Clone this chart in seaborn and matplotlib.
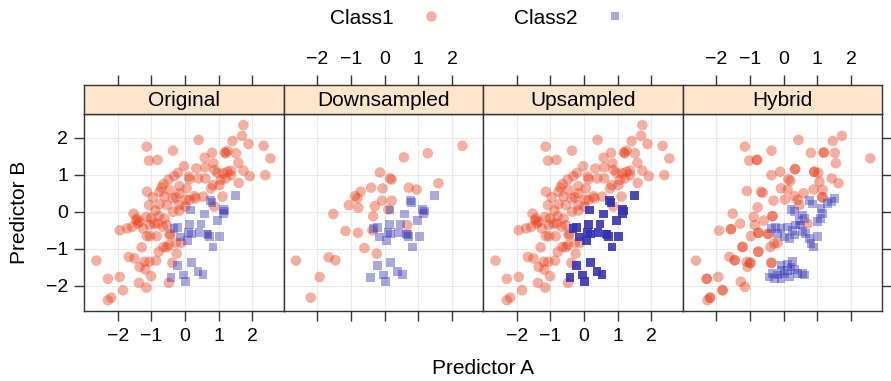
import numpy as np
import pandas as pd
import seaborn as sns
import matplotlib.pyplot as plt
from matplotlib.lines import Line2D

# Class1 points, original data
orig_c1_a = [1.73, 1.69, 0.40, 1.41, 1.88, 2.33, -1.14, -0.36, 1.18, 1.26, 1.51, 0.80, 0.58, 2.53,
             -1.07, -0.82, 0.84, 1.58, -0.03, 0.33, 0.60, 0.87, 1.36, 1.73, -0.21, 0.96, 1.13, 2.38,
             1.92, 0.13, -0.32, -0.49, 0.39, 0.60, 1.06, 1.21, 1.59, -0.64, -0.17, 0.05, 0.77, 1.02,
             -1.13, -0.76, -0.46, 0.28, 0.54, 1.11, -0.61, -0.27, 0.13, -0.96, -1.07, -0.76, -0.54,
             -0.17, 0.01, 0.87, -0.36, -0.17, -0.88, -1.53, -1.43, -1.35, -1.15, -1.01, -0.81, -0.61,
             -0.54, -0.78, -1.94, -1.72, -1.57, -1.05, -1.04, -0.84, -0.44, -0.27, -0.12, -0.64, -0.48,
             -1.29, -0.25, -0.78, -1.67, -1.50, -1.20, -1.06, -0.86, -2.63, -0.38, -1.35, -1.18, -1.01,
             -1.94, -2.29, -1.37, -0.48, -1.15, -1.84, -2.19, -2.29,
             0.11, 0.82, 1.26, -1.45, -1.40, -0.46, -0.54, 0.31, 0.03, -0.91, -0.66, -1.25, -1.13,
             1.21, 1.36, -0.36, -0.70, -0.17]
orig_c1_b = [2.34, 2.05, 1.94, 1.91, 1.83, 1.78, 1.76, 1.65, 1.60, 1.65, 1.58, 1.59, 1.46, 1.44,
             1.38, 1.40, 1.31, 1.32, 1.23, 1.17, 1.20, 1.13, 1.11, 1.11, 1.05, 1.05, 1.04, 0.99,
             0.96, 0.88, 0.96, 0.87, 0.90, 0.90, 0.86, 0.90, 0.78, 0.75, 0.69, 0.63, 0.63, 0.72,
             0.54, 0.54, 0.59, 0.42, 0.41, 0.41, 0.41, 0.39, 0.32, 0.39, 0.18, 0.20, 0.18,
             0.18, 0.14, 0.14, 0.00, 0.03, 0.03, -0.05, -0.18, -0.27, -0.14, -0.18, -0.32, -0.18,
             -0.36, -0.12, -0.50, -0.45, -0.41, -0.36, -0.66, -0.66, -0.60, -0.84, -0.84, -0.95, -0.90,
             -0.96, -1.13, -1.08, -1.22, -1.26, -1.35, -1.35, -1.32, -1.32, -1.38, -1.49, -1.56, -1.74,
             -1.76, -1.81, -1.92, -1.92, -2.05, -2.12, -2.32, -2.39,
             0.95, 0.72, 1.08, -0.23, -0.32, -0.63, -0.96, 0.36, 0.33, -0.32, -0.41, -0.45, -0.66,
             1.58, 0.99, 0.36, 0.66, 0.50]

# Class2 points, original data
orig_c2_a = [1.49, 0.76, 1.13, 1.15, 0.58, 0.16, 0.97, -0.22, -0.33, 0.14, 0.47, -0.14, 0.06,
             0.18, 0.41, 0.65, 0.72, 1.03, 0.83, -0.22, 0.18, -0.42, -0.04, 0.02, 0.38, 0.53,
             0.68, 1.18, 0.80, 0.10]
orig_c2_b = [0.43, 0.30, 0.07, -0.04, -0.06, 0.05, -0.23, -0.42, -0.46, -0.35, -0.33, -0.68, -0.77,
             -0.60, -0.57, -0.60, -0.66, -0.66, -0.95, -1.46, -1.38, -1.78, -1.71, -1.89, -1.62, -1.69,
             -0.62, 0.02, 0.25, -0.55]

# Downsampled Class1
down_c1_a = [2.31, 0.57, 1.28, -0.14, 0.16, 0.21, 1.60, 0.72, 0.95, -0.71, -0.40, -0.06, -0.81,
             -0.08, 0.21, -1.06, -0.78, -0.29, 0.11, -1.52, -0.34, 0.67, -1.16, -0.79, -0.36,
             -0.60, -0.23, -2.63, -1.66, -1.46, -1.93, -2.19, -0.88]
down_c1_b = [1.78, 1.47, 1.58, 1.06, 0.90, 0.87, 0.77, 0.65, 0.60, 0.54, 0.65, 0.63, 0.36,
             0.30, 0.30, 0.18, 0.11, 0.15, 0.06, -0.06, -0.12, -0.36, -0.52, -0.57, -0.50,
             -0.98, -1.13, -1.32, -1.23, -1.31, -1.76, -2.32, 0.42]

# Upsampled: every Class2 point appears several times
up_copies = 4

# Hybrid Class1
hyb_c1_a = [1.73, 0.44, 1.46, -1.15, -0.36, 1.19, 1.19, 1.52, 0.81, 2.57, -1.02, -0.79, -0.79, 1.55,
            0.34, 0.34, -0.10, -0.36, 0.91, 0.91, 1.03, 0.14, 0.20, 1.43, 1.63, 1.06, -0.08, 0.12,
            0.89, 1.16, -1.09, -0.67, -0.62, -0.30, 0.04, 0.32, 0.59, 0.42, 0.47, 1.15, 1.15,
            -0.77, -0.89, -1.51, -0.33, -0.33, -0.59, 0.71, -1.29, -1.56, -1.56, -1.91, -0.85,
            -0.75, -0.75, -0.97, -0.46, -0.46, -0.28, -0.18, -0.39, -1.22, -1.22, -0.75, -0.75,
            -1.61, -1.45, -1.45, -1.09, -0.99, -0.99, -0.36, -0.36, -2.60, -1.07, -1.94, -2.28,
            -2.28, -1.27, -1.81, -1.81, -1.15, -2.18, -2.18, -2.26]
hyb_c1_b = [2.05, 1.94, 1.91, 1.76, 1.65, 1.60, 1.60, 1.59, 1.59, 1.44, 1.38, 1.40, 1.40, 1.31,
            1.15, 1.15, 1.08, 0.99, 1.08, 1.08, 1.05, 0.88, 0.84, 0.90, 0.77, 0.81, 0.63, 0.60,
            0.60, 0.59, 0.56, 0.54, 0.51, 0.30, 0.33, 0.42, 0.50, 0.32, 0.18, 0.39, 0.39,
            0.12, -0.14, -0.05, -0.12, -0.12, -0.24, -0.32, -0.32, -0.47, -0.47, -0.51, -0.36,
            -0.57, -0.57, -0.66, -0.60, -0.60, -0.86, -0.84, -0.95, -0.95, -0.95, -1.08, -1.08,
            -1.22, -1.31, -1.31, -1.35, -1.38, -1.38, -1.38, -1.38, -1.32, -1.49, -1.76, -1.81,
            -1.81, -1.89, -2.12, -2.12, -2.03, -2.32, -2.32, -2.39]

# Hybrid Class2 (SMOTE)
hyb_c2_a = [1.50, 1.43, 1.31, 0.76, 0.86, 1.11, 1.16, 1.09, 1.01, 0.22, 0.32, 0.56, 0.46, 0.63,
            0.51, 0.36, 0.26, 0.12, -0.08, -0.23, -0.36, -0.18, 0.02, 0.17, 0.32, 0.66, 0.76,
            0.81, 0.89, 1.01, 0.56,
            -0.43, -0.33, -0.18, -0.08, 0.02, 0.12, 0.22, 0.32, 0.42, 0.56, 0.61, -0.28, -0.08,
            0.17, -0.08, 0.12, 0.26]
hyb_c2_b = [0.36, 0.27, 0.23, 0.30, 0.21, 0.09, -0.05, -0.18, -0.27, 0.06, 0.00, -0.09, -0.23,
            -0.18, -0.36, -0.36, -0.50, -0.41, -0.45, -0.41, -0.45, -0.59, -0.68, -0.72, -0.63,
            -0.59, -0.72, -0.86, -0.95, -0.66, -0.54,
            -1.76, -1.67, -1.71, -1.59, -1.67, -1.58, -1.49, -1.56, -1.67, -1.67, -1.71, -1.80,
            -1.80, -1.76, -1.44, -1.41, -1.35]

methods = ["Original", "Downsampled", "Upsampled", "Hybrid"]
classes = ["Class1", "Class2"]
tick_vals = [-2, -1, 0, 1, 2]
tick_text = ["\u22122", "\u22121", "0", "1", "2"]


def block(a, b, cls, method):
    return pd.DataFrame({"A": a, "B": b, "Class": cls, "Method": method})


df = pd.concat([
    block(orig_c1_a, orig_c1_b, "Class1", "Original"),
    block(orig_c2_a, orig_c2_b, "Class2", "Original"),
    block(down_c1_a, down_c1_b, "Class1", "Downsampled"),
    block(orig_c2_a, orig_c2_b, "Class2", "Downsampled"),
    block(orig_c1_a, orig_c1_b, "Class1", "Upsampled"),
    block(np.repeat(orig_c2_a, up_copies), np.repeat(orig_c2_b, up_copies), "Class2", "Upsampled"),
    block(hyb_c1_a, hyb_c1_b, "Class1", "Hybrid"),
    block(hyb_c2_a, hyb_c2_b, "Class2", "Hybrid"),
], ignore_index=True)

sns.set_style("white")
plt.rcParams["font.family"] = ["Liberation Sans", "DejaVu Sans"]
plt.rcParams["font.size"] = 14
plt.rcParams["text.color"] = "black"
plt.rcParams["xtick.labelcolor"] = "black"
plt.rcParams["ytick.labelcolor"] = "black"

palette = {"Class1": "#E8401A", "Class2": "#3232B4"}
markers = {"Class1": "o", "Class2": "s"}
sizes = {"Class1": 58, "Class2": 40}
edge = "#333333"
label_fs = 15

g = sns.FacetGrid(df, col="Method", col_order=methods, sharex=True, sharey=True,
                  height=3.0, aspect=0.7, despine=False)
g.map_dataframe(sns.scatterplot, x="A", y="B", hue="Class", style="Class", size="Class",
                hue_order=classes, palette=palette, markers=markers, sizes=sizes,
                alpha=0.42, linewidth=0)
g.set_titles("")
g.set_axis_labels("", "")

fig = g.figure
fig.set_size_inches(8.91, 3.81)
fig.subplots_adjust(left=84 / 891, right=882 / 891, bottom=1 - 311 / 381, top=1 - 114 / 381,
                    wspace=0)

strip_h = 29 / 381
for i, ax in enumerate(g.axes.flat):
    ax.set_xlim(-3.0, 2.92)
    ax.set_ylim(-2.68, 2.64)
    ax.set_xticks(tick_vals)
    ax.set_yticks(tick_vals)
    ax.set_xticklabels(tick_text)
    ax.set_yticklabels(tick_text)
    ax.grid(True, color="#E9E9E9", lw=0.8)
    ax.set_axisbelow(True)
    for s in ax.spines.values():
        s.set_color(edge)
        s.set_linewidth(1.0)
    ax.tick_params(axis="x", direction="out", length=7.5, width=1, color=edge, pad=5,
                   bottom=True, top=False, labelbottom=(i % 2 == 0), labeltop=False)
    ax.tick_params(axis="y", direction="out", length=7.5, width=1, color=edge, pad=4,
                   left=(i == 0), right=(i == 3), labelleft=(i == 0), labelright=False)
    leg = ax.get_legend()
    if leg is not None:
        leg.remove()

    # lattice-style strip with the top axis ticks
    pos = ax.get_position()
    sax = fig.add_axes([pos.x0, pos.y1, pos.width, strip_h], sharex=ax)
    sax.set_facecolor("#FFE5CC")
    sax.set_yticks([])
    sax.grid(False)
    for s in sax.spines.values():
        s.set_color(edge)
        s.set_linewidth(1.0)
    sax.tick_params(axis="x", direction="out", length=7.5, width=1, color=edge, pad=5,
                    bottom=False, top=True, labelbottom=False, labeltop=(i % 2 == 1))
    sax.text(0.5, 0.45, methods[i], transform=sax.transAxes, ha="center", va="center",
             fontsize=label_fs)

handles = [
    Line2D([], [], ls="", marker="o", ms=7.6, mew=0, color=palette["Class1"], alpha=0.42),
    Line2D([], [], ls="", marker="s", ms=6.3, mew=0, color=palette["Class2"], alpha=0.42),
]
fig.legend(handles, classes, loc="center", ncol=2, markerfirst=False, frameon=False,
           bbox_to_anchor=(0.542, 1 - 18 / 381), columnspacing=3.0, handletextpad=0.8,
           fontsize=label_fs)

fig.text(0.542, 1 - 368 / 381, "Predictor A", ha="center", va="center", fontsize=label_fs)
fig.text(20 / 891, 1 - 212 / 381, "Predictor B", ha="center", va="center", rotation=90,
         fontsize=label_fs)

fig.savefig("out.png", dpi=100)
